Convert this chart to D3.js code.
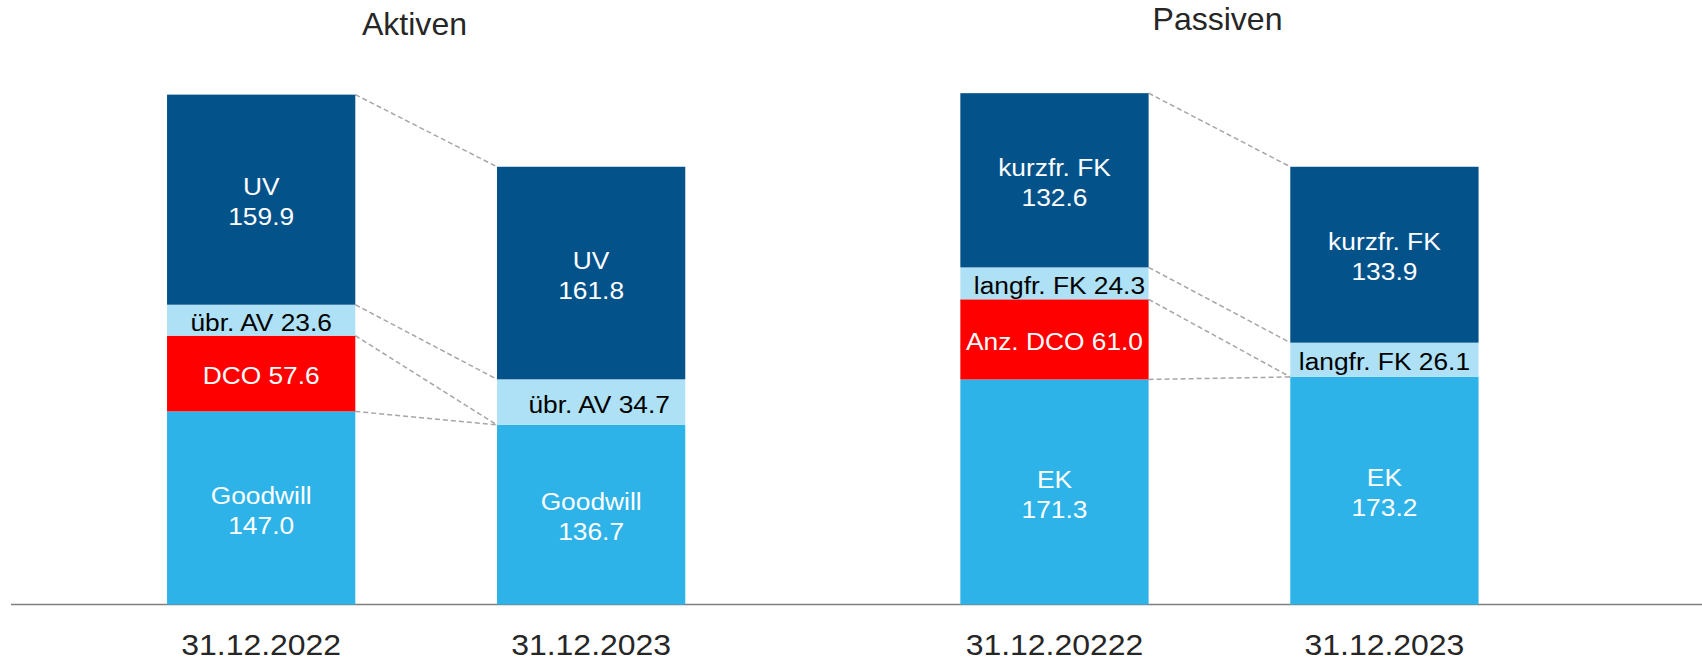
<!DOCTYPE html>
<html>
<head>
<meta charset="utf-8">
<script src="https://cdn.jsdelivr.net/npm/d3@7"></script>
<style>
  html, body { margin: 0; padding: 0; background: #fff; }
  svg { display: block; font-family: "Liberation Sans", Arial, sans-serif; }
</style>
</head>
<body>
<svg id="chart" width="1702" height="670"></svg>
<script>
// ---- data ----
const titles = ["Aktiven", "Passiven"];
const categoriesAktiv = ["31.12.2022", "31.12.2023"];
const categoriesPassiv = ["31.12.20222", "31.12.2023"];

const seriesAktiv = ["Goodwill", "DCO", "übr. AV", "UV"];
const goodwill = [147.0, 136.7];
const dco = [57.6, 0];
const uebrAV = [23.6, 34.7];
const uv = [159.9, 161.8];

const seriesPassiv = ["EK", "Anz. DCO", "langfr. FK", "kurzfr. FK"];
const ek = [171.3, 173.2];
const anzDCO = [61.0, 0];
const langfrFK = [24.3, 26.1];
const kurzfrFK = [132.6, 133.9];

// ---- styles ----
const twoLine = new Set(["Goodwill", "UV", "EK", "kurzfr. FK"]);
const colors = {
  "Goodwill": "#2EB3E8", "DCO": "#FF0000", "übr. AV": "#AEE1F5", "UV": "#03528A",
  "EK": "#2EB3E8", "Anz. DCO": "#FF0000", "langfr. FK": "#AEE1F5", "kurzfr. FK": "#03528A"
};
const textColors = {
  "Goodwill": "#fff", "DCO": "#fff", "übr. AV": "#000", "UV": "#fff",
  "EK": "#fff", "Anz. DCO": "#fff", "langfr. FK": "#000", "kurzfr. FK": "#fff"
};
// small manual label nudges (px) seen in the original layout
const labelNudge = { "übr. AV|31.12.2023": 8, "langfr. FK|31.12.20222": 5 };
const STRETCH = 1.075;

// ---- build ----
const svg = d3.select("#chart");
const y = d3.scaleLinear().domain([0, 400]).range([604.5, 79]);

function buildRows(cats, names, arrays) {
  return cats.map((c, i) => {
    const r = { cat: c };
    names.forEach((n, k) => r[n] = arrays[k][i]);
    return r;
  });
}

const panels = [
  { title: titles[0], titleX: 414.5, titleY: 34.5, cats: categoriesAktiv, names: seriesAktiv,
    rows: buildRows(categoriesAktiv, seriesAktiv, [goodwill, dco, uebrAV, uv]),
    range: [96.2, 756.1] },
  { title: titles[1], titleX: 1217.5, titleY: 29.5, cats: categoriesPassiv, names: seriesPassiv,
    rows: buildRows(categoriesPassiv, seriesPassiv, [ek, anzDCO, langfrFK, kurzfrFK]),
    range: [889.5, 1549.4] }
];

// baseline
svg.append("line")
  .attr("x1", 11).attr("x2", 1702)
  .attr("y1", y(0)).attr("y2", y(0))
  .attr("stroke", "#7f7f7f").attr("stroke-width", 1.5);

panels.forEach(p => {
  const x = d3.scaleBand().domain(p.cats).range(p.range)
    .paddingInner(0.4294).paddingOuter(0.2147);
  const stack = d3.stack().keys(p.names)(p.rows);
  const g = svg.append("g");

  // connector dashed lines
  stack.forEach(layer => {
    const a = layer[0], b = layer[1];
    g.append("line")
      .attr("x1", x(p.cats[0]) + x.bandwidth())
      .attr("y1", y(a[1]))
      .attr("x2", x(p.cats[1]))
      .attr("y2", y(b[1]))
      .attr("stroke", "#A6A6A6")
      .attr("stroke-width", 1.5)
      .attr("stroke-dasharray", "5,3");
  });

  // bars
  stack.forEach(layer => {
    const name = layer.key;
    g.selectAll(null).data(layer.filter(d => d[1] - d[0] > 0)).enter().append("rect")
      .attr("x", d => x(d.data.cat))
      .attr("width", x.bandwidth())
      .attr("y", d => y(d[1]))
      .attr("height", d => y(d[0]) - y(d[1]))
      .attr("fill", colors[name]);
  });

  // labels
  stack.forEach(layer => {
    const name = layer.key;
    layer.filter(d => d[1] - d[0] > 0).forEach(d => {
      const cx = x(d.data.cat) + x.bandwidth() / 2 + (labelNudge[name + "|" + d.data.cat] || 0);
      const cy = (y(d[0]) + y(d[1])) / 2 + 2;
      const val = d3.format(".1f")(d[1] - d[0]);
      const t = g.append("text")
        .attr("transform", `translate(${cx},${cy}) scale(${STRETCH},1)`)
        .attr("text-anchor", "middle")
        .attr("fill", textColors[name])
        .style("font-size", "24.5px");
      if (twoLine.has(name)) {
        t.append("tspan").attr("x", 0).attr("y", -15).attr("dy", "0.35em").text(name);
        t.append("tspan").attr("x", 0).attr("y", 15).attr("dy", "0.35em").text(val);
      } else {
        t.attr("y", 0).attr("dy", "0.35em").text(name + " " + val);
      }
    });
  });

  // x axis labels
  const ax = svg.append("g")
    .attr("transform", `translate(0,${y(0)})`)
    .call(d3.axisBottom(x).tickSize(0).tickPadding(29));
  ax.select(".domain").remove();
  ax.selectAll("text")
    .attr("transform", "scale(1.065,1)")
    .style("font-size", "30px")
    .style("font-family", "'Liberation Sans', Arial, sans-serif")
    .attr("fill", "#262626");

  // title
  svg.append("text")
    .attr("transform", `translate(${p.titleX},${p.titleY}) scale(1.05,1)`)
    .attr("text-anchor", "middle")
    .attr("fill", "#262626")
    .style("font-size", "30.5px")
    .text(p.title);
});
</script>
</body>
</html>
